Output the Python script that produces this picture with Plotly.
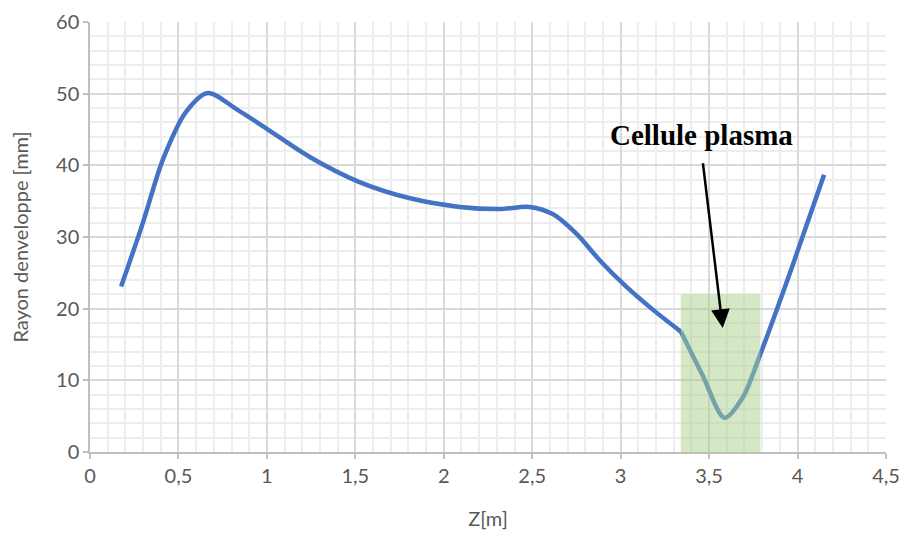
import plotly.graph_objects as go

# Envelope radius curve
z_main = [0.176, 0.298, 0.412, 0.544, 0.666, 0.836, 1.0, 1.24, 1.52,
          1.81, 2.09, 2.315, 2.485, 2.616, 2.748, 2.88, 3.03, 3.18, 3.34]
r_main = [23.1, 31.9, 40.8, 47.5, 50.1, 47.7, 45.1, 41.2, 37.7,
          35.4, 34.2, 33.9, 34.2, 33.2, 30.5, 26.8, 23.1, 19.9, 16.8]
z_cell = [3.34, 3.465, 3.587, 3.69, 3.785, 3.97, 4.15]
r_cell = [16.8, 10.6, 4.77, 7.6, 13.35, 25.9, 38.7]

# Plasma cell region
cell_z = [3.34, 3.79]
cell_top = 22

x_ticks = [0, 0.5, 1, 1.5, 2, 2.5, 3, 3.5, 4, 4.5]
x_ticktext = ["0", "0,5", "1", "1,5", "2", "2,5", "3", "3,5", "4", "4,5"]
y_ticks = [0, 10, 20, 30, 40, 50, 60]

label_text = "Cellule plasma"
label_pos = (3.457, 44.3)
arrow_tail = (3.464, 40.5)
arrow_head = (3.577, 17.3)

line_color = "#4472c4"
font_fam = "Lato, Open Sans, sans-serif"
tick_color = "#595959"

fig = go.Figure()
for zs, rs in [(z_main, r_main), (z_cell, r_cell)]:
    fig.add_trace(go.Scatter(x=zs, y=rs, mode="lines",
                             line=dict(color=line_color, width=4.5, shape="spline", smoothing=0.85),
                             showlegend=False, hoverinfo="skip"))

fig.add_shape(type="rect", xref="x", yref="y", x0=cell_z[0], x1=cell_z[1], y0=0, y1=cell_top,
              fillcolor="#a9d18e", opacity=0.5, line=dict(width=0), layer="above")

fig.add_annotation(x=arrow_head[0], y=arrow_head[1], ax=arrow_tail[0], ay=arrow_tail[1],
                   xref="x", yref="y", axref="x", ayref="y", text="", showarrow=True,
                   arrowhead=2, arrowsize=1.5, arrowwidth=2.5, arrowcolor="black")
fig.add_annotation(x=label_pos[0], y=label_pos[1], xref="x", yref="y", text="<b>" + label_text + "</b>",
                   showarrow=False, font=dict(family="Liberation Serif, DejaVu Serif, serif", size=29, color="black"))

grid_major = "#d9d9d9"
grid_minor = "#ededed"

fig.update_xaxes(range=[0, 4.5], tickvals=x_ticks, ticktext=x_ticktext,
                 showgrid=True, gridcolor=grid_major, gridwidth=1.5,
                 minor=dict(dtick=0.1, showgrid=True, gridcolor=grid_minor, gridwidth=1.5, ticks=""),
                 showline=True, linecolor="#bfbfbf", linewidth=1.5,
                 ticks="outside", ticklen=5, tickcolor="#bfbfbf", tickwidth=1.5,
                 tickfont=dict(family=font_fam, size=20, color=tick_color),
                 title=dict(text="Z[m]", font=dict(family=font_fam, size=20, color=tick_color), standoff=26),
                 zeroline=False, automargin=False)
fig.update_yaxes(range=[0, 60], tickvals=y_ticks,
                 showgrid=True, gridcolor=grid_major, gridwidth=1.5,
                 minor=dict(dtick=2, showgrid=True, gridcolor=grid_minor, gridwidth=1.5, ticks=""),
                 showline=True, linecolor="#bfbfbf", linewidth=1.5,
                 ticks="outside", ticklen=5, tickcolor="#bfbfbf", tickwidth=1.5,
                 tickfont=dict(family=font_fam, size=20, color=tick_color),
                 title=dict(text="Rayon denveloppe [mm]", font=dict(family=font_fam, size=20, color=tick_color), standoff=22),
                 zeroline=False, automargin=False)

fig.update_layout(width=903, height=536, margin=dict(l=90, r=17, t=22, b=84),
                  plot_bgcolor="white", paper_bgcolor="white")

fig.write_html("out.html", config={"displayModeBar": False},
               post_script="document.body.style.margin='0px';")
